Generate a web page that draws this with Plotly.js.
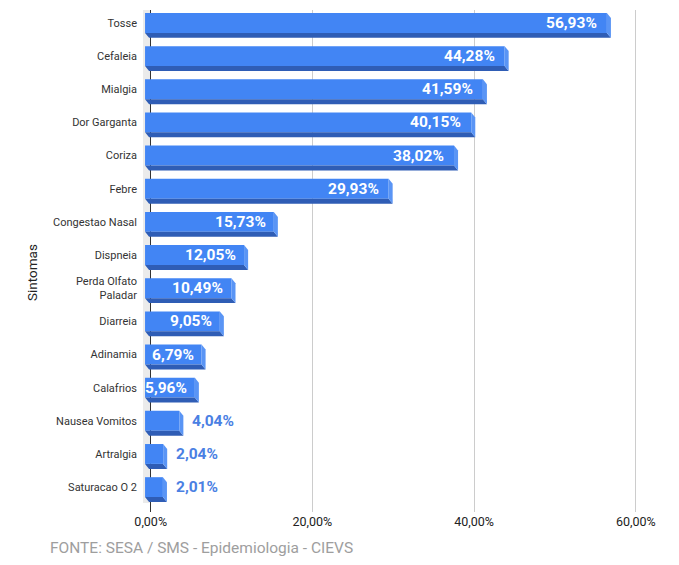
<!DOCTYPE html>
<html>
<head>
<meta charset="utf-8">
<script src="https://cdn.plot.ly/plotly-3.0.1.min.js"></script>
<style>html,body{margin:0;padding:0;background:#fff;}#chart{width:679px;height:565px;}</style>
</head>
<body>
<div id="chart"></div>
<script>
var categories = ["Tosse","Cefaleia","Mialgia","Dor Garganta","Coriza","Febre","Congestao Nasal","Dispneia","Perda Olfato<br>Paladar","Diarreia","Adinamia","Calafrios","Nausea Vomitos","Artralgia","Saturacao O 2"];
var values = [56.93,44.28,41.59,40.15,38.02,29.93,15.73,12.05,10.49,9.05,6.79,5.96,4.04,2.04,2.01];
var valueLabels = ["56,93%","44,28%","41,59%","40,15%","38,02%","29,93%","15,73%","12,05%","10,49%","9,05%","6,79%","5,96%","4,04%","2,04%","2,01%"];
var tickVals = [0,20,40,60];
var tickText = ["0,00%","20,00%","40,00%","60,00%"];

var DX = 0.5, DY = 0.15, HALF = 0.30, BASE = -0.7;
var idx = categories.map(function(_, i){ return i; });

var front = {
  type: 'bar', orientation: 'h',
  y: idx,
  x: values.map(function(v){ return v - DX - BASE; }),
  base: BASE,
  width: HALF * 2,
  marker: {color: '#4285f4', line: {width: 0}},
  hoverinfo: 'skip'
};

var shapes = [{
  type: 'rect', layer: 'below', xref: 'x', yref: 'paper',
  x0: -0.95, x1: 0, y0: 0.018, y1: 1,
  fillcolor: '#ebebeb', line: {width: 0}
}];
var annotations = [];
values.forEach(function(v, i){
  var yt = i - HALF, yb = i + HALF;
  var xf = v - DX;
  shapes.push({
    type: 'path', layer: 'above', xref: 'x', yref: 'y',
    path: 'M' + BASE + ',' + yb + ' L' + xf + ',' + yb + ' L' + v + ',' + (yb + DY) + ' L' + (BASE + DX) + ',' + (yb + DY) + ' Z',
    fillcolor: '#2f5db5', line: {width: 0}
  });
  shapes.push({
    type: 'path', layer: 'above', xref: 'x', yref: 'y',
    path: 'M' + xf + ',' + yt + ' L' + v + ',' + (yt + DY) + ' L' + v + ',' + (yb + DY) + ' L' + xf + ',' + yb + ' Z',
    fillcolor: '#5a95f5', line: {width: 0}
  });
  var inside = v > 5;
  annotations.push({
    xref: 'x', yref: 'y', x: inside ? xf : v, y: i,
    xanchor: inside ? 'right' : 'left', yanchor: 'middle',
    xshift: inside ? (v > 20 ? -8 : -6) : 7,
    text: '<b>' + valueLabels[i] + '</b>', showarrow: false,
    font: {family: 'Roboto', size: 15.5, color: inside ? '#ffffff' : '#4a80e3'}
  });
});
annotations.push({
  xref: 'paper', yref: 'paper', x: 0, y: 0.5, xshift: -109, yshift: -12,
  xanchor: 'center', yanchor: 'middle', textangle: -90,
  text: 'Sintomas', showarrow: false,
  font: {family: 'Roboto', size: 13.5, color: '#222'}
});
annotations.push({
  xref: 'paper', yref: 'paper', x: 0, y: 0, xshift: -93, yshift: -36,
  xanchor: 'left', yanchor: 'middle',
  text: 'FONTE: SESA / SMS - Epidemiologia - CIEVS', showarrow: false,
  font: {family: 'Roboto', size: 15.5, color: '#9e9e9e'}
});

var layout = {
  width: 679, height: 565,
  margin: {l: 141, r: 19, t: 10, b: 53},
  paper_bgcolor: '#fff', plot_bgcolor: '#fff',
  showlegend: false,
  font: {family: 'Roboto', color: '#222'},
  xaxis: {
    range: [-1.2, 63], tickvals: tickVals, ticktext: tickText,
    showgrid: true, gridcolor: '#cccccc', gridwidth: 1,
    zeroline: true, zerolinecolor: '#333333', zerolinewidth: 1.5,
    showline: false, ticks: '', tickfont: {family: 'Roboto', size: 12.5, color: '#222'},
    fixedrange: true
  },
  yaxis: {
    range: [14.75, -0.39], tickvals: idx, ticktext: categories,
    showgrid: false, zeroline: false, showline: false, ticks: '',
    ticklabelstandoff: 3,
    tickfont: {family: 'Roboto', size: 11, color: '#333'},
    fixedrange: true
  },
  shapes: shapes,
  annotations: annotations
};

Plotly.newPlot('chart', [front], layout, {displayModeBar: false, staticPlot: true});
</script>
</body>
</html>
